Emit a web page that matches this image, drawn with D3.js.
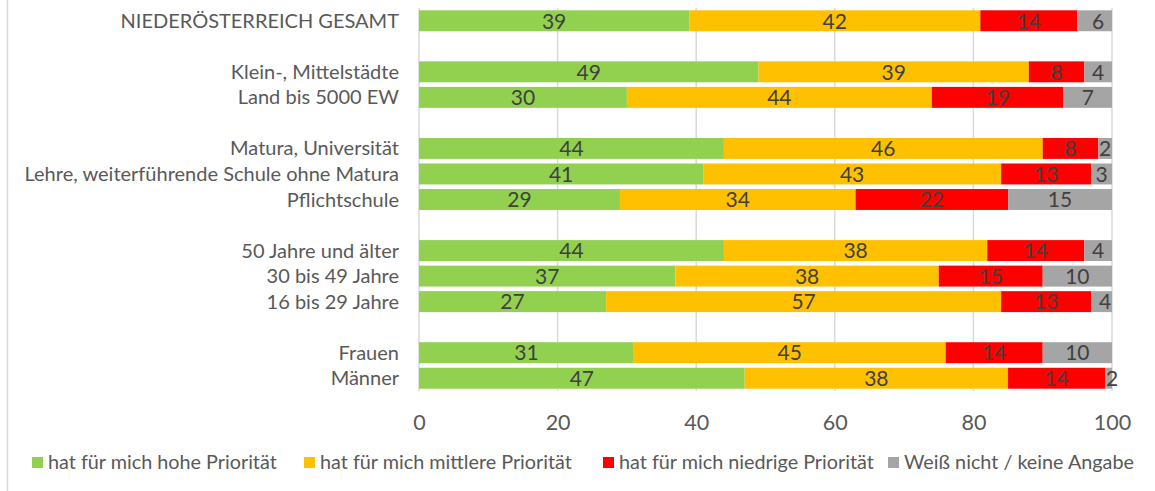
<!DOCTYPE html>
<html>
<head>
<meta charset="utf-8">
<script src="https://cdn.jsdelivr.net/npm/d3@7"></script>
<style>
  html, body { margin: 0; padding: 0; background: #fff; }
  svg { display: block; font-family: Lato, "Open Sans", sans-serif; }
</style>
</head>
<body>
<svg id="chart" width="1155" height="491"></svg>
<script>
const categories = [
  "NIEDERÖSTERREICH GESAMT", "",
  "Klein-, Mittelstädte", "Land bis 5000 EW", "",
  "Matura, Universität", "Lehre, weiterführende Schule ohne Matura", "Pflichtschule", "",
  "50 Jahre und älter", "30 bis 49 Jahre", "16 bis 29 Jahre", "",
  "Frauen", "Männer"
];
const hohe     = [39, null, 49, 30, null, 44, 41, 29, null, 44, 37, 27, null, 31, 47];
const mittlere = [42, null, 39, 44, null, 46, 43, 34, null, 38, 38, 57, null, 45, 38];
const niedrige = [14, null,  8, 19, null,  8, 13, 22, null, 14, 15, 13, null, 14, 14];
const weissNicht = [6, null, 4,  7, null,  2,  3, 15, null,  4, 10,  4, null, 10,  2];
const seriesNames = [
  "hat für mich hohe Priorität",
  "hat für mich mittlere Priorität",
  "hat für mich niedrige Priorität",
  "Weiß nicht / keine Angabe"
];
const seriesColors = ["#92D050", "#FFC000", "#FF0000", "#A5A5A5"];
const xTicks = [0, 20, 40, 60, 80, 100];

const seriesValues = [hohe, mittlere, niedrige, weissNicht];
const svg = d3.select("#chart");

const x = d3.scaleLinear().domain([0, 100]).range([419, 1112]);
const y = d3.scaleBand().domain(d3.range(categories.length)).range([8, 391]).paddingInner(0.18).paddingOuter(0.09);

// frame line on left
svg.append("line").attr("x1", 7.5).attr("x2", 7.5).attr("y1", 0).attr("y2", 491)
  .attr("stroke", "#D9D9D9").attr("stroke-width", 1.5);

// gridlines
svg.append("g").selectAll("line").data(xTicks).join("line")
  .attr("x1", d => x(d)).attr("x2", d => x(d))
  .attr("y1", 8).attr("y2", 391)
  .attr("stroke", "#D9D9D9").attr("stroke-width", 1.5);

// tick labels via axis
const xAxis = svg.append("g").attr("transform", "translate(0,391)")
  .call(d3.axisBottom(x).tickValues(xTicks).tickSize(0).tickPadding(24).tickFormat(d3.format("d")));
xAxis.select(".domain").remove();
xAxis.selectAll("text").attr("fill", "#595959").style("font-size", "21.5px").style("font-family", "Lato, 'Open Sans', sans-serif");

// category labels
svg.append("g").selectAll("text").data(categories.map((c, i) => ({c, i})).filter(d => d.c))
  .join("text")
  .attr("x", 399).attr("y", d => y(d.i) + y.bandwidth() / 2)
  .attr("dy", "0.35em").attr("text-anchor", "end")
  .attr("fill", "#595959").style("font-size", "20px")
  .text(d => d.c);

// stacked data
const rows = categories.map((c, i) => ({ i, vals: seriesValues.map(s => s[i]) })).filter(r => r.vals[0] != null);
const segs = [];
rows.forEach(r => {
  let acc = 0;
  r.vals.forEach((v, k) => { segs.push({ i: r.i, k, v, x0: acc, x1: acc + v }); acc += v; });
});

svg.append("clipPath").attr("id", "plotclip").append("rect")
  .attr("x", x(0)).attr("y", 0).attr("width", x(100) - x(0)).attr("height", 491);

svg.append("g").attr("clip-path", "url(#plotclip)").selectAll("rect").data(segs).join("rect")
  .attr("x", d => x(d.x0)).attr("width", d => x(d.x1) - x(d.x0))
  .attr("y", d => y(d.i)).attr("height", y.bandwidth())
  .attr("fill", d => seriesColors[d.k]);

svg.append("g").selectAll("text").data(segs).join("text")
  .attr("x", d => x((d.x0 + d.x1) / 2)).attr("y", d => y(d.i) + y.bandwidth() / 2)
  .attr("dy", "0.37em").attr("text-anchor", "middle")
  .attr("fill", "#404040").style("font-size", "21px")
  .text(d => d.v);

// legend
const legendX = [32, 304, 603, 888];
const lg = svg.append("g").selectAll("g").data(seriesNames).join("g")
  .attr("transform", (d, i) => `translate(${legendX[i]},457)`);
lg.append("rect").attr("width", 11).attr("height", 11).attr("fill", (d, i) => seriesColors[i]);
lg.append("text").attr("x", 16).attr("y", 5.5).attr("dy", "0.35em")
  .attr("fill", "#595959").style("font-size", "19.8px").text(d => d);
</script>
</body>
</html>
